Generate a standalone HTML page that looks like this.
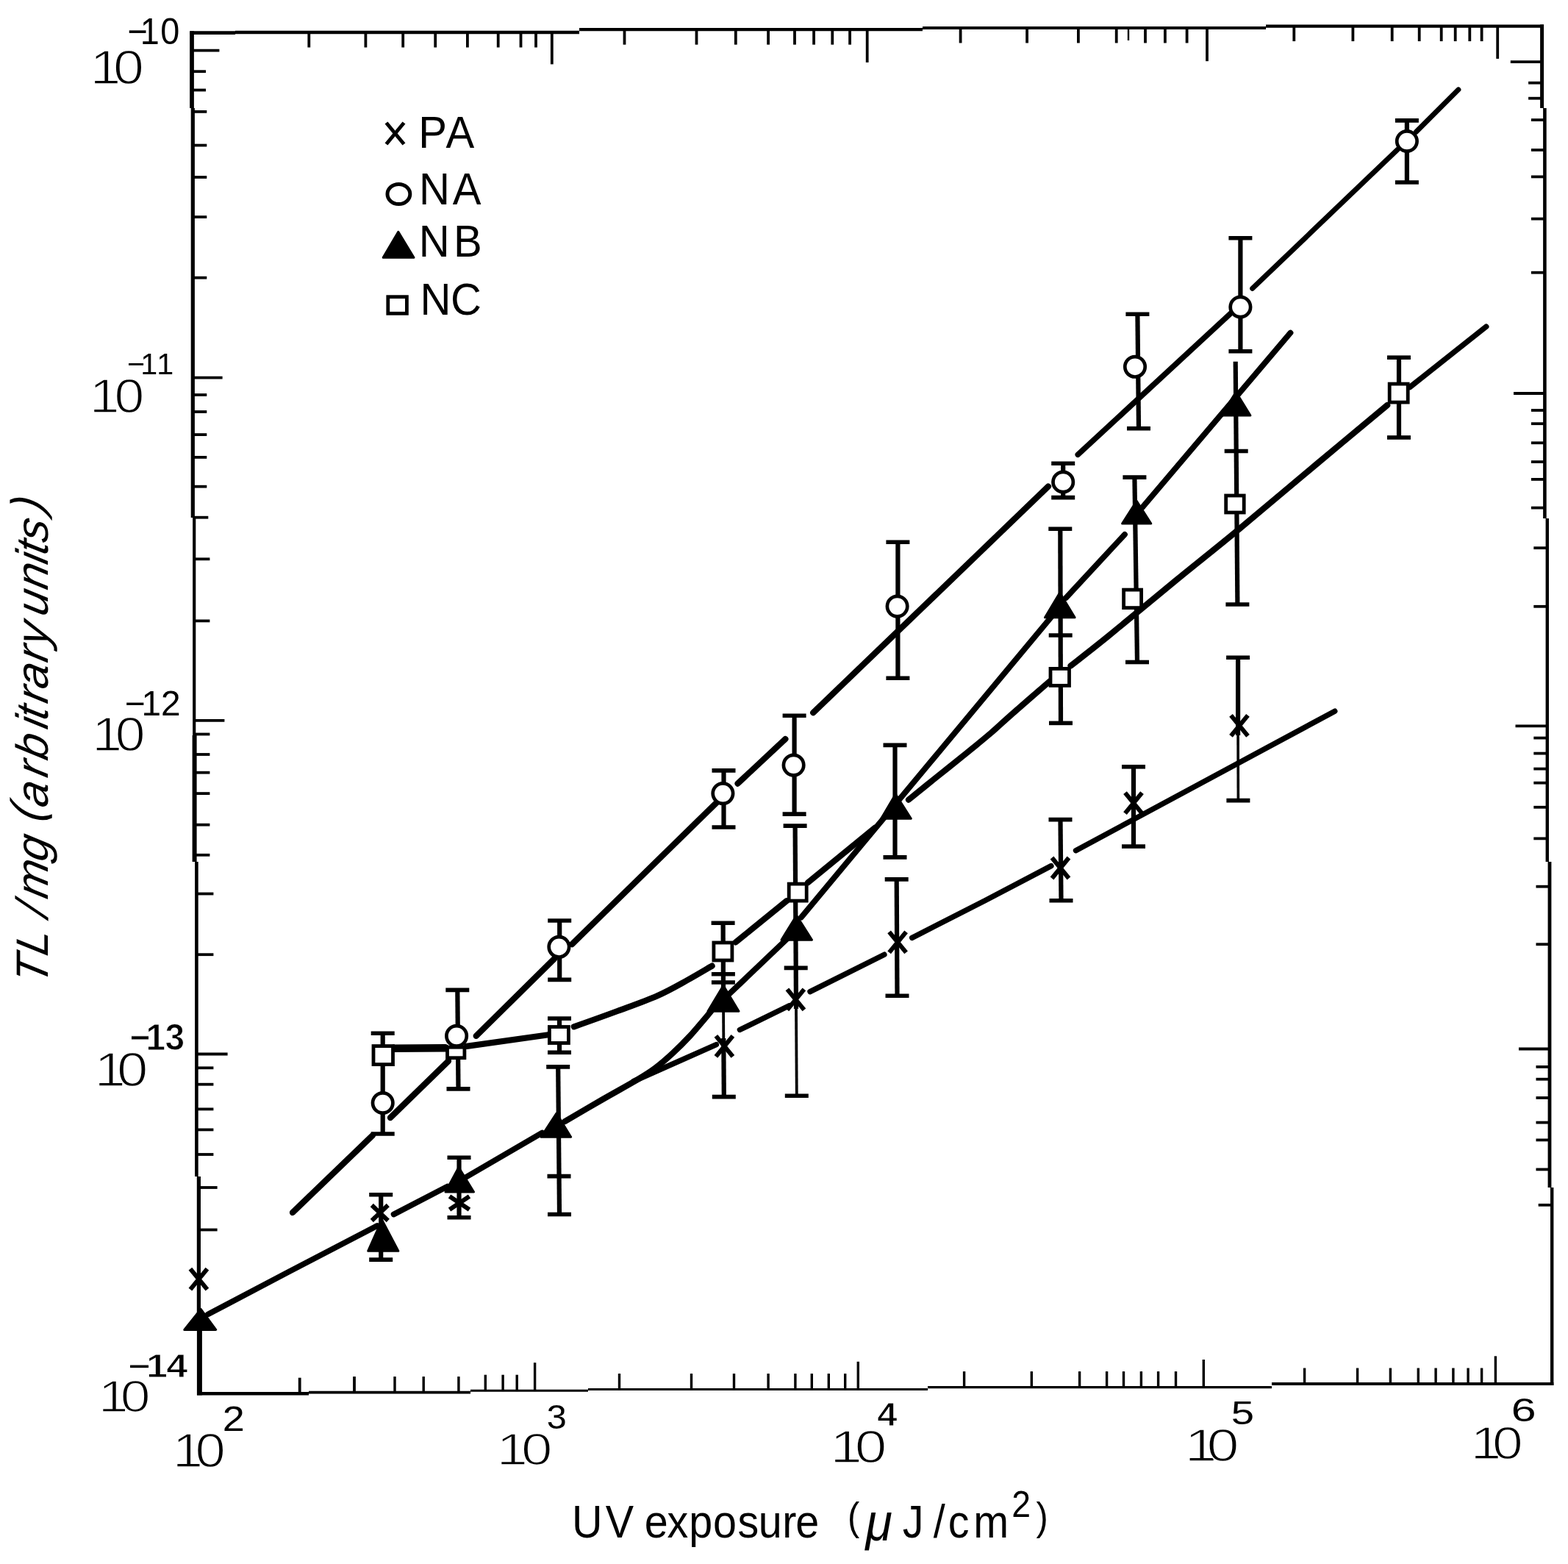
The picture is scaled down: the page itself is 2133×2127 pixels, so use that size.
<!DOCTYPE html>
<html lang="en">
<head>
<meta charset="utf-8">
<title>TL/mg versus UV exposure</title>
<style>
html,body{margin:0;padding:0;background:#fff;}
body{width:2133px;height:2127px;overflow:hidden;}
svg{display:block;}
</style>
</head>
<body>
<svg width="2133" height="2127" viewBox="0 0 2133 2127" stroke="#000" fill="none">
<rect x="0" y="0" width="2133" height="2127" fill="#fff" stroke="none"/>
<g id="frame">
<line x1="258.5" y1="44.6" x2="320" y2="44.6" stroke-width="4.6"/>
<line x1="320" y1="44" x2="788" y2="44" stroke-width="4.4"/>
<line x1="788" y1="40.2" x2="1255" y2="40.2" stroke-width="4.2"/>
<line x1="1255" y1="38" x2="1722" y2="38" stroke-width="4.2"/>
<line x1="1722" y1="35.6" x2="2100" y2="35.6" stroke-width="4.4"/>
<line x1="261" y1="42.3" x2="261" y2="147" stroke-width="5.8"/>
<line x1="262.3" y1="147" x2="262.3" y2="704" stroke-width="5.2"/>
<line x1="264.2" y1="704" x2="264.2" y2="1000" stroke-width="4.2"/>
<line x1="264.6" y1="1000" x2="264.6" y2="1172" stroke-width="6.0"/>
<line x1="267.4" y1="1172" x2="267.4" y2="1600" stroke-width="4.6"/>
<line x1="270.4" y1="1600" x2="270.4" y2="1790" stroke-width="5.2"/>
<line x1="271.4" y1="1790" x2="271.4" y2="1897.4" stroke-width="7.0"/>
<line x1="2097.6" y1="33.4" x2="2097.6" y2="147" stroke-width="5.0"/>
<line x1="2101.4" y1="147" x2="2101.4" y2="705" stroke-width="4.6"/>
<line x1="2104.8" y1="705" x2="2104.8" y2="1172" stroke-width="4.4"/>
<line x1="2108" y1="1172" x2="2108" y2="1615" stroke-width="4.8"/>
<line x1="2111.2" y1="1615" x2="2111.2" y2="1884" stroke-width="4.4"/>
<line x1="268" y1="1895.2" x2="420" y2="1895.2" stroke-width="4.6"/>
<line x1="420" y1="1893.6" x2="640" y2="1893.6" stroke-width="3.6"/>
<line x1="640" y1="1891.2" x2="800" y2="1891.2" stroke-width="3.0"/>
<line x1="800" y1="1889.6" x2="1262" y2="1889.6" stroke-width="3.0"/>
<line x1="1262" y1="1886.6" x2="1730" y2="1886.6" stroke-width="3.2"/>
<line x1="1730" y1="1882" x2="2113.4" y2="1882" stroke-width="4.0"/>
</g>
<g id="ticks">
<line x1="420.3" y1="44" x2="420.3" y2="64.5" stroke-width="3.8"/>
<line x1="497.4" y1="44" x2="497.4" y2="64.5" stroke-width="3.8"/>
<line x1="548.2" y1="44" x2="548.2" y2="64.5" stroke-width="3.8"/>
<line x1="592.2" y1="44" x2="592.2" y2="64.5" stroke-width="3.8"/>
<line x1="635.9" y1="44" x2="635.9" y2="64.5" stroke-width="3.8"/>
<line x1="677.7" y1="44" x2="677.7" y2="64.5" stroke-width="3.8"/>
<line x1="708.5" y1="44" x2="708.5" y2="64.5" stroke-width="3.8"/>
<line x1="729" y1="44" x2="729" y2="64.5" stroke-width="3.8"/>
<line x1="849.5" y1="40.2" x2="849.5" y2="60.7" stroke-width="3.8"/>
<line x1="947.5" y1="40.2" x2="947.5" y2="60.7" stroke-width="3.8"/>
<line x1="1000.8" y1="40.2" x2="1000.8" y2="60.7" stroke-width="3.8"/>
<line x1="1045.1" y1="40.2" x2="1045.1" y2="60.7" stroke-width="3.8"/>
<line x1="1081" y1="40.2" x2="1081" y2="60.7" stroke-width="3.8"/>
<line x1="1107.1" y1="40.2" x2="1107.1" y2="60.7" stroke-width="3.8"/>
<line x1="1132.3" y1="40.2" x2="1132.3" y2="60.7" stroke-width="3.8"/>
<line x1="1156.1" y1="40.2" x2="1156.1" y2="60.7" stroke-width="3.8"/>
<line x1="1306.6" y1="38" x2="1306.6" y2="58.5" stroke-width="3.8"/>
<line x1="1397.1" y1="38" x2="1397.1" y2="58.5" stroke-width="3.8"/>
<line x1="1466.9" y1="38" x2="1466.9" y2="58.5" stroke-width="3.8"/>
<line x1="1518.7" y1="38" x2="1518.7" y2="58.5" stroke-width="3.8"/>
<line x1="1558" y1="38" x2="1558" y2="58.5" stroke-width="3.8"/>
<line x1="1584.9" y1="38" x2="1584.9" y2="58.5" stroke-width="3.8"/>
<line x1="1614.6" y1="38" x2="1614.6" y2="58.5" stroke-width="3.8"/>
<line x1="1760.3" y1="35.6" x2="1760.3" y2="56.1" stroke-width="3.8"/>
<line x1="1840.4" y1="35.6" x2="1840.4" y2="56.1" stroke-width="3.8"/>
<line x1="1893.7" y1="35.6" x2="1893.7" y2="56.1" stroke-width="3.8"/>
<line x1="1930.7" y1="35.6" x2="1930.7" y2="56.1" stroke-width="3.8"/>
<line x1="1960.7" y1="35.6" x2="1960.7" y2="56.1" stroke-width="3.8"/>
<line x1="1979.7" y1="35.6" x2="1979.7" y2="56.1" stroke-width="3.8"/>
<line x1="1999.3" y1="35.6" x2="1999.3" y2="56.1" stroke-width="3.8"/>
<line x1="2015.6" y1="35.6" x2="2015.6" y2="56.1" stroke-width="3.8"/>
<line x1="1535" y1="40" x2="1535" y2="55" stroke-width="2.4"/>
<line x1="750.8" y1="44" x2="750.8" y2="87.4" stroke-width="3.8"/>
<line x1="1179.7" y1="40.2" x2="1179.7" y2="84.9" stroke-width="3.8"/>
<line x1="1642" y1="38" x2="1642" y2="83.2" stroke-width="3.8"/>
<line x1="2037.2" y1="35.6" x2="2037.2" y2="79.9" stroke-width="3.8"/>
<line x1="407.7" y1="1895.2" x2="407.7" y2="1873.7" stroke-width="3.8"/>
<line x1="482" y1="1893.6" x2="482" y2="1872.1" stroke-width="3.8"/>
<line x1="537" y1="1893.6" x2="537" y2="1872.1" stroke-width="3.4"/>
<line x1="576.2" y1="1893.6" x2="576.2" y2="1872.1" stroke-width="3.4"/>
<line x1="623.9" y1="1893.6" x2="623.9" y2="1872.1" stroke-width="3.4"/>
<line x1="660.3" y1="1891.2" x2="660.3" y2="1869.7" stroke-width="3.4"/>
<line x1="684.1" y1="1891.2" x2="684.1" y2="1869.7" stroke-width="3.4"/>
<line x1="703.2" y1="1891.2" x2="703.2" y2="1869.7" stroke-width="3.4"/>
<line x1="842.5" y1="1889.6" x2="842.5" y2="1868.1" stroke-width="3.4"/>
<line x1="940.5" y1="1889.6" x2="940.5" y2="1868.1" stroke-width="3.4"/>
<line x1="998.5" y1="1889.6" x2="998.5" y2="1868.1" stroke-width="3.4"/>
<line x1="1045.1" y1="1889.6" x2="1045.1" y2="1868.1" stroke-width="3.4"/>
<line x1="1081.9" y1="1889.6" x2="1081.9" y2="1868.1" stroke-width="3.4"/>
<line x1="1104.3" y1="1889.6" x2="1104.3" y2="1868.1" stroke-width="3.4"/>
<line x1="1127.3" y1="1889.6" x2="1127.3" y2="1868.1" stroke-width="3.4"/>
<line x1="1149.7" y1="1889.6" x2="1149.7" y2="1868.1" stroke-width="3.4"/>
<line x1="1311.6" y1="1886.6" x2="1311.6" y2="1865.1" stroke-width="3.4"/>
<line x1="1403.3" y1="1886.6" x2="1403.3" y2="1865.1" stroke-width="3.4"/>
<line x1="1468.6" y1="1886.6" x2="1468.6" y2="1865.1" stroke-width="3.4"/>
<line x1="1505.6" y1="1886.6" x2="1505.6" y2="1865.1" stroke-width="3.4"/>
<line x1="1528.5" y1="1886.6" x2="1528.5" y2="1865.1" stroke-width="3.4"/>
<line x1="1552.4" y1="1886.6" x2="1552.4" y2="1865.1" stroke-width="3.4"/>
<line x1="1575.6" y1="1886.6" x2="1575.6" y2="1865.1" stroke-width="3.4"/>
<line x1="1599.5" y1="1886.6" x2="1599.5" y2="1865.1" stroke-width="3.4"/>
<line x1="1774.6" y1="1882" x2="1774.6" y2="1860.5" stroke-width="3.4"/>
<line x1="1846.6" y1="1882" x2="1846.6" y2="1860.5" stroke-width="3.4"/>
<line x1="1891.4" y1="1882" x2="1891.4" y2="1860.5" stroke-width="3.4"/>
<line x1="1929.3" y1="1882" x2="1929.3" y2="1860.5" stroke-width="3.4"/>
<line x1="1953.1" y1="1882" x2="1953.1" y2="1860.5" stroke-width="3.4"/>
<line x1="1976.9" y1="1882" x2="1976.9" y2="1860.5" stroke-width="3.4"/>
<line x1="1997.1" y1="1882" x2="1997.1" y2="1860.5" stroke-width="3.4"/>
<line x1="2015.6" y1="1882" x2="2015.6" y2="1860.5" stroke-width="3.4"/>
<line x1="727.6" y1="1891.2" x2="727.6" y2="1853.2" stroke-width="3.4"/>
<line x1="1167.3" y1="1889.6" x2="1167.3" y2="1851.8" stroke-width="3.4"/>
<line x1="1637.3" y1="1886.6" x2="1637.3" y2="1849" stroke-width="3.4"/>
<line x1="2034.4" y1="1882" x2="2034.4" y2="1844.3" stroke-width="3.4"/>
<line x1="261" y1="97.2" x2="280" y2="97.2" stroke-width="3.8"/>
<line x1="261" y1="122.5" x2="280" y2="122.5" stroke-width="3.8"/>
<line x1="262.3" y1="151.9" x2="281.3" y2="151.9" stroke-width="3.8"/>
<line x1="262.3" y1="197.6" x2="281.3" y2="197.6" stroke-width="3.8"/>
<line x1="262.3" y1="241" x2="281.3" y2="241" stroke-width="3.8"/>
<line x1="262.3" y1="295.1" x2="281.3" y2="295.1" stroke-width="3.8"/>
<line x1="262.3" y1="377.7" x2="281.3" y2="377.7" stroke-width="3.8"/>
<line x1="262.3" y1="537" x2="281.3" y2="537" stroke-width="3.8"/>
<line x1="262.3" y1="560" x2="281.3" y2="560" stroke-width="3.8"/>
<line x1="262.3" y1="591.1" x2="281.3" y2="591.1" stroke-width="3.8"/>
<line x1="262.3" y1="621.9" x2="281.3" y2="621.9" stroke-width="3.8"/>
<line x1="262.3" y1="661.7" x2="281.3" y2="661.7" stroke-width="3.8"/>
<line x1="262.3" y1="703.7" x2="283.3" y2="703.7" stroke-width="3.8"/>
<line x1="264.4" y1="760.3" x2="285.4" y2="760.3" stroke-width="3.8"/>
<line x1="264.4" y1="844.4" x2="285.4" y2="844.4" stroke-width="3.8"/>
<line x1="264.4" y1="998.5" x2="285.4" y2="998.5" stroke-width="3.8"/>
<line x1="264.4" y1="1026" x2="285.4" y2="1026" stroke-width="3.8"/>
<line x1="264.4" y1="1050.7" x2="285.4" y2="1050.7" stroke-width="3.8"/>
<line x1="264.4" y1="1079.1" x2="285.4" y2="1079.1" stroke-width="3.8"/>
<line x1="264.4" y1="1121.7" x2="285.4" y2="1121.7" stroke-width="3.8"/>
<line x1="264.4" y1="1162.8" x2="285.4" y2="1162.8" stroke-width="3.8"/>
<line x1="267.4" y1="1215.5" x2="290.4" y2="1215.5" stroke-width="3.8"/>
<line x1="267.4" y1="1298.2" x2="290.4" y2="1298.2" stroke-width="3.8"/>
<line x1="267.4" y1="1452.3" x2="290.4" y2="1452.3" stroke-width="3.8"/>
<line x1="267.4" y1="1474.7" x2="290.4" y2="1474.7" stroke-width="3.8"/>
<line x1="267.4" y1="1508.4" x2="290.4" y2="1508.4" stroke-width="3.8"/>
<line x1="267.4" y1="1536.4" x2="290.4" y2="1536.4" stroke-width="3.8"/>
<line x1="267.4" y1="1570" x2="290.4" y2="1570" stroke-width="3.8"/>
<line x1="269.6" y1="1615" x2="295.6" y2="1615" stroke-width="3.8"/>
<line x1="269.6" y1="1672.5" x2="295.6" y2="1672.5" stroke-width="3.8"/>
<line x1="261" y1="68.7" x2="298.4" y2="68.7" stroke-width="3.8"/>
<line x1="262.3" y1="513.7" x2="302.6" y2="513.7" stroke-width="3.8"/>
<line x1="264.4" y1="979.8" x2="305.4" y2="979.8" stroke-width="3.8"/>
<line x1="267.4" y1="1433.5" x2="309.6" y2="1433.5" stroke-width="3.8"/>
<line x1="2097.6" y1="112.7" x2="2079.1" y2="112.7" stroke-width="3.8"/>
<line x1="2097.6" y1="133.7" x2="2079.1" y2="133.7" stroke-width="3.8"/>
<line x1="2101.4" y1="163.1" x2="2082.9" y2="163.1" stroke-width="3.8"/>
<line x1="2101.4" y1="204" x2="2082.9" y2="204" stroke-width="3.8"/>
<line x1="2101.4" y1="240.4" x2="2082.9" y2="240.4" stroke-width="3.8"/>
<line x1="2101.4" y1="297.6" x2="2082.9" y2="297.6" stroke-width="3.8"/>
<line x1="2101.4" y1="370.7" x2="2082.9" y2="370.7" stroke-width="3.8"/>
<line x1="2101.4" y1="558" x2="2082.9" y2="558" stroke-width="3.8"/>
<line x1="2101.4" y1="576.2" x2="2082.9" y2="576.2" stroke-width="3.8"/>
<line x1="2101.4" y1="602.3" x2="2082.9" y2="602.3" stroke-width="3.8"/>
<line x1="2101.4" y1="628.1" x2="2082.9" y2="628.1" stroke-width="3.8"/>
<line x1="2101.4" y1="651.9" x2="2082.9" y2="651.9" stroke-width="3.8"/>
<line x1="2101.4" y1="690.6" x2="2082.9" y2="690.6" stroke-width="3.8"/>
<line x1="2104.8" y1="745.2" x2="2086.3" y2="745.2" stroke-width="3.8"/>
<line x1="2104.8" y1="824.8" x2="2086.3" y2="824.8" stroke-width="3.8"/>
<line x1="2104.8" y1="1003.6" x2="2086.3" y2="1003.6" stroke-width="3.8"/>
<line x1="2104.8" y1="1024.6" x2="2086.3" y2="1024.6" stroke-width="3.8"/>
<line x1="2104.8" y1="1045.6" x2="2086.3" y2="1045.6" stroke-width="3.8"/>
<line x1="2104.8" y1="1064.7" x2="2086.3" y2="1064.7" stroke-width="3.8"/>
<line x1="2104.8" y1="1097.8" x2="2086.3" y2="1097.8" stroke-width="3.8"/>
<line x1="2104.8" y1="1140.4" x2="2086.3" y2="1140.4" stroke-width="3.8"/>
<line x1="2108" y1="1205.7" x2="2089.5" y2="1205.7" stroke-width="3.8"/>
<line x1="2108" y1="1284.2" x2="2089.5" y2="1284.2" stroke-width="3.8"/>
<line x1="2108" y1="1450.9" x2="2089.5" y2="1450.9" stroke-width="3.8"/>
<line x1="2108" y1="1467.7" x2="2089.5" y2="1467.7" stroke-width="3.8"/>
<line x1="2108" y1="1493" x2="2089.5" y2="1493" stroke-width="3.8"/>
<line x1="2108" y1="1526.6" x2="2089.5" y2="1526.6" stroke-width="3.8"/>
<line x1="2108" y1="1550.4" x2="2089.5" y2="1550.4" stroke-width="3.8"/>
<line x1="2108" y1="1590.4" x2="2089.5" y2="1590.4" stroke-width="3.8"/>
<line x1="2111.2" y1="1638.8" x2="2092.7" y2="1638.8" stroke-width="3.8"/>
<line x1="2097.6" y1="84.1" x2="2054.8" y2="84.1" stroke-width="3.8"/>
<line x1="2101.4" y1="535" x2="2059" y2="535" stroke-width="3.8"/>
<line x1="2104.8" y1="987.3" x2="2061.5" y2="987.3" stroke-width="3.8"/>
<line x1="2108" y1="1426.5" x2="2066" y2="1426.5" stroke-width="3.8"/>
</g>
<g id="curves" fill="none">
<polyline points="398,1649 507,1544" stroke-width="8.3" stroke-linecap="round" stroke-linejoin="round"/>
<polyline points="531,1520 610,1443" stroke-width="8.3" stroke-linecap="round" stroke-linejoin="round"/>
<polyline points="647.7,1408.9 754.2,1303.8" stroke-width="8.3" stroke-linecap="round" stroke-linejoin="round"/>
<polyline points="778,1284.2 975.6,1090.8" stroke-width="8.2" stroke-linecap="round" stroke-linejoin="round"/>
<polyline points="1003.6,1065.6 1068.4,1005" stroke-width="8.2" stroke-linecap="round" stroke-linejoin="round"/>
<polyline points="1106.2,969.2 1290,792.5 1426,661.5" stroke-width="8.2" stroke-linecap="round" stroke-linejoin="round"/>
<polyline points="1466.3,618.3 1674.3,426" stroke-width="7.6" stroke-linecap="round" stroke-linejoin="round"/>
<polyline points="1703.7,392.3 1901.3,203.2" stroke-width="7.0" stroke-linecap="round" stroke-linejoin="round"/>
<polyline points="1926.5,179.3 1983.9,121.9" stroke-width="7.0" stroke-linecap="round" stroke-linejoin="round"/>
<polyline points="283,1787.4 392.3,1729.9 513,1667" stroke-width="7.8" stroke-linecap="round" stroke-linejoin="round"/>
<polyline points="535.6,1651.5 608.5,1613.6" stroke-width="7.8" stroke-linecap="round" stroke-linejoin="round"/>
<polyline points="633.7,1601 737.4,1540.6" stroke-width="7.8" stroke-linecap="round" stroke-linejoin="round"/>
<polyline points="992.4,1351.4 1075,1272.7" stroke-width="7.8" stroke-linecap="round" stroke-linejoin="round"/>
<polyline points="1090,1247.6 1437,830.7" stroke-width="7.8" stroke-linecap="round" stroke-linejoin="round"/>
<polyline points="1450,813.1 1530,726.8" stroke-width="7.8" stroke-linecap="round" stroke-linejoin="round"/>
<polyline points="1553.6,690.4 1755.5,452.6" stroke-width="7.8" stroke-linecap="round" stroke-linejoin="round"/>
<path d="M768.2,1525.2 C776.7,1520.2 802.9,1504.9 819.4,1495.4 C835.9,1485.9 855.2,1475.4 867.1,1468.3 C879,1461.2 883,1458.8 891,1452.8 C899,1446.8 906.9,1439.9 914.9,1432.5 C922.9,1425.1 930,1418.1 938.8,1408.6 C947.5,1399 962.6,1380.8 967.4,1375.2" stroke-width="8.2" stroke-linecap="round" stroke-linejoin="round"/>
<polyline points="535,1425.8 606,1425.2" stroke-width="10.5" stroke-linecap="round" stroke-linejoin="round"/>
<polyline points="635.1,1422.9 744.4,1407.5" stroke-width="8.2" stroke-linecap="round" stroke-linejoin="round"/>
<path d="M780.8,1396.3 C790.7,1392.8 821.1,1382 840,1375 C858.9,1368 878.5,1361.2 894.3,1354.2 C910.1,1347.2 922.6,1339.8 935,1333 C947.4,1326.2 963,1316.8 968.6,1313.6" stroke-width="8.2" stroke-linecap="round" stroke-linejoin="round"/>
<polyline points="1000.8,1281.4 1070,1225.3" stroke-width="8.2" stroke-linecap="round" stroke-linejoin="round"/>
<polyline points="1099.2,1200.1 1190,1125.8" stroke-width="8.2" stroke-linecap="round" stroke-linejoin="round"/>
<path d="M1236,1087.6 C1242.2,1082.6 1260,1068.1 1273.1,1057.6 C1286.2,1047.1 1302.1,1034.5 1314.6,1024.4 C1327,1014.3 1337.4,1005.9 1347.8,997 C1358.2,988.1 1363.6,982.5 1377,970.8 C1390.4,959 1419.5,933.9 1428,926.5" stroke-width="8.2" stroke-linecap="round" stroke-linejoin="round"/>
<path d="M1456.5,905.5 C1465.2,898.7 1484.5,883.9 1508.4,864.5 C1532.3,845.1 1571,812.8 1600,789 C1629,765.2 1651,748.2 1682.7,722 C1714.4,695.8 1755.9,660.5 1790,632 C1824.1,603.5 1871,564.5 1887.2,551" stroke-width="8.2" stroke-linecap="round" stroke-linejoin="round"/>
<polyline points="1917.9,526.5 2021.8,444.2" stroke-width="7.4" stroke-linecap="round" stroke-linejoin="round"/>
<polyline points="862,1470.5 974.4,1420.6" stroke-width="7.4" stroke-linecap="round" stroke-linejoin="round"/>
<polyline points="1006.4,1400.5 1074,1367.5" stroke-width="7.4" stroke-linecap="round" stroke-linejoin="round"/>
<polyline points="1102,1348.6 1202.9,1298.2" stroke-width="7.4" stroke-linecap="round" stroke-linejoin="round"/>
<polyline points="1240.7,1275.4 1340,1224.8 1429.9,1177.6" stroke-width="7.4" stroke-linecap="round" stroke-linejoin="round"/>
<polyline points="1463.5,1156.7 1815.8,967.2" stroke-width="7.4" stroke-linecap="round" stroke-linejoin="round"/>
</g>
<g id="errorbars">
<line x1="520.7" y1="1405.2" x2="520.7" y2="1542" stroke-width="6.2"/>
<line x1="504.7" y1="1405.2" x2="536.7" y2="1405.2" stroke-width="5.6"/>
<line x1="504.7" y1="1542" x2="536.7" y2="1542" stroke-width="5.6"/>
<line x1="518.2" y1="1624.8" x2="518.2" y2="1713.1" stroke-width="6.2"/>
<line x1="502.2" y1="1624.8" x2="534.2" y2="1624.8" stroke-width="5.6"/>
<line x1="502.2" y1="1713.1" x2="534.2" y2="1713.1" stroke-width="5.6"/>
<line x1="622.3" y1="1346.4" x2="623.5" y2="1480.9" stroke-width="6.2"/>
<line x1="606.3" y1="1346.4" x2="638.3" y2="1346.4" stroke-width="5.6"/>
<line x1="607.5" y1="1480.9" x2="639.5" y2="1480.9" stroke-width="5.6"/>
<line x1="624.5" y1="1574.2" x2="624.5" y2="1655.7" stroke-width="6.2"/>
<line x1="608.5" y1="1574.2" x2="640.5" y2="1574.2" stroke-width="5.6"/>
<line x1="608.5" y1="1655.7" x2="640.5" y2="1655.7" stroke-width="5.6"/>
<line x1="761.2" y1="1252" x2="761.2" y2="1332.4" stroke-width="6.2"/>
<line x1="745.2" y1="1252" x2="777.2" y2="1252" stroke-width="5.6"/>
<line x1="745.2" y1="1332.4" x2="777.2" y2="1332.4" stroke-width="5.6"/>
<line x1="761" y1="1385.1" x2="761" y2="1431.3" stroke-width="6.2"/>
<line x1="745" y1="1385.1" x2="777" y2="1385.1" stroke-width="5.6"/>
<line x1="745" y1="1431.3" x2="777" y2="1431.3" stroke-width="5.6"/>
<line x1="759.2" y1="1450.9" x2="761" y2="1651.5" stroke-width="6.2"/>
<line x1="743.2" y1="1450.9" x2="775.2" y2="1450.9" stroke-width="5.6"/>
<line x1="744.5" y1="1599.6" x2="776.5" y2="1599.6" stroke-width="5.6"/>
<line x1="745" y1="1651.5" x2="777" y2="1651.5" stroke-width="5.6"/>
<line x1="984.5" y1="1047.9" x2="984.5" y2="1125" stroke-width="6.2"/>
<line x1="968.5" y1="1047.9" x2="1000.5" y2="1047.9" stroke-width="5.6"/>
<line x1="968.5" y1="1125" x2="1000.5" y2="1125" stroke-width="5.6"/>
<line x1="983.6" y1="1255.3" x2="984.1" y2="1376" stroke-width="6.2"/>
<line x1="967.6" y1="1255.3" x2="999.6" y2="1255.3" stroke-width="5.6"/>
<line x1="967.9" y1="1324.8" x2="999.9" y2="1324.8" stroke-width="5.6"/>
<line x1="967.9" y1="1336" x2="999.9" y2="1336" stroke-width="5.6"/>
<line x1="984.1" y1="1376" x2="984.3" y2="1412" stroke-width="3.8"/>
<line x1="984.3" y1="1412" x2="984.8" y2="1491.6" stroke-width="6.2"/>
<line x1="968.8" y1="1491.6" x2="1000.8" y2="1491.6" stroke-width="5.6"/>
<line x1="1080.6" y1="973.3" x2="1080.6" y2="1107.1" stroke-width="6.2"/>
<line x1="1064.6" y1="973.3" x2="1096.6" y2="973.3" stroke-width="5.6"/>
<line x1="1064.6" y1="1107.1" x2="1096.6" y2="1107.1" stroke-width="5.6"/>
<line x1="1081.6" y1="1123.1" x2="1083" y2="1372" stroke-width="6.2"/>
<line x1="1065.6" y1="1123.1" x2="1097.6" y2="1123.1" stroke-width="5.6"/>
<line x1="1066.7" y1="1316.4" x2="1098.7" y2="1316.4" stroke-width="5.6"/>
<line x1="1083" y1="1372" x2="1083.8" y2="1490.2" stroke-width="3.8"/>
<line x1="1067.8" y1="1490.2" x2="1099.8" y2="1490.2" stroke-width="5.6"/>
<line x1="1221.4" y1="737.2" x2="1221.4" y2="922.3" stroke-width="6.2"/>
<line x1="1205.4" y1="737.2" x2="1237.4" y2="737.2" stroke-width="5.6"/>
<line x1="1205.4" y1="922.3" x2="1237.4" y2="922.3" stroke-width="5.6"/>
<line x1="1217.5" y1="1013.4" x2="1217.5" y2="1165.9" stroke-width="6.2"/>
<line x1="1201.5" y1="1013.4" x2="1233.5" y2="1013.4" stroke-width="5.6"/>
<line x1="1201.5" y1="1165.9" x2="1233.5" y2="1165.9" stroke-width="5.6"/>
<line x1="1219.7" y1="1195.9" x2="1220.5" y2="1354.2" stroke-width="6.2"/>
<line x1="1203.7" y1="1195.9" x2="1235.7" y2="1195.9" stroke-width="5.6"/>
<line x1="1204.5" y1="1354.2" x2="1236.5" y2="1354.2" stroke-width="5.6"/>
<line x1="1446.2" y1="630.3" x2="1446.2" y2="676.6" stroke-width="6.2"/>
<line x1="1430.2" y1="630.3" x2="1462.2" y2="630.3" stroke-width="5.6"/>
<line x1="1430.2" y1="676.6" x2="1462.2" y2="676.6" stroke-width="5.6"/>
<line x1="1442.3" y1="719.2" x2="1443" y2="983.4" stroke-width="6.2"/>
<line x1="1426.3" y1="719.2" x2="1458.3" y2="719.2" stroke-width="5.6"/>
<line x1="1426.7" y1="864" x2="1458.7" y2="864" stroke-width="5.6"/>
<line x1="1427" y1="983.4" x2="1459" y2="983.4" stroke-width="5.6"/>
<line x1="1442.5" y1="1114.6" x2="1443.5" y2="1224.8" stroke-width="6.2"/>
<line x1="1426.5" y1="1114.6" x2="1458.5" y2="1114.6" stroke-width="5.6"/>
<line x1="1427.5" y1="1224.8" x2="1459.5" y2="1224.8" stroke-width="5.6"/>
<line x1="1547.4" y1="427.3" x2="1549" y2="582.7" stroke-width="6.2"/>
<line x1="1531.4" y1="427.3" x2="1563.4" y2="427.3" stroke-width="5.6"/>
<line x1="1533" y1="582.7" x2="1565" y2="582.7" stroke-width="5.6"/>
<line x1="1543.4" y1="649.1" x2="1547" y2="900.5" stroke-width="6.2"/>
<line x1="1527.4" y1="649.1" x2="1559.4" y2="649.1" stroke-width="5.6"/>
<line x1="1531" y1="900.5" x2="1563" y2="900.5" stroke-width="5.6"/>
<line x1="1542" y1="1042.8" x2="1542" y2="1151.1" stroke-width="6.2"/>
<line x1="1526" y1="1042.8" x2="1558" y2="1042.8" stroke-width="5.6"/>
<line x1="1526" y1="1151.1" x2="1558" y2="1151.1" stroke-width="5.6"/>
<line x1="1687.4" y1="323.7" x2="1687.4" y2="477.8" stroke-width="6.2"/>
<line x1="1671.4" y1="323.7" x2="1703.4" y2="323.7" stroke-width="5.6"/>
<line x1="1671.4" y1="477.8" x2="1703.4" y2="477.8" stroke-width="5.6"/>
<line x1="1680.7" y1="491.8" x2="1683.4" y2="822" stroke-width="6.2"/>
<line x1="1665.7" y1="613.5" x2="1697.7" y2="613.5" stroke-width="5.6"/>
<line x1="1667.4" y1="822" x2="1699.4" y2="822" stroke-width="5.6"/>
<line x1="1684.1" y1="894.3" x2="1684.1" y2="1000" stroke-width="6.2"/>
<line x1="1668.1" y1="894.3" x2="1700.1" y2="894.3" stroke-width="5.6"/>
<line x1="1684.1" y1="1000" x2="1684.4" y2="1088.6" stroke-width="3.6"/>
<line x1="1668.4" y1="1088.6" x2="1700.4" y2="1088.6" stroke-width="5.6"/>
<line x1="1913.9" y1="163.9" x2="1913.9" y2="248" stroke-width="6.2"/>
<line x1="1897.9" y1="163.9" x2="1929.9" y2="163.9" stroke-width="5.6"/>
<line x1="1897.9" y1="248" x2="1929.9" y2="248" stroke-width="5.6"/>
<line x1="1903" y1="486.2" x2="1903" y2="595" stroke-width="6.2"/>
<line x1="1887" y1="486.2" x2="1919" y2="486.2" stroke-width="5.6"/>
<line x1="1887" y1="595" x2="1919" y2="595" stroke-width="5.6"/>
</g>
<g id="markers">
<rect x="508" y="1422.6" width="26.5" height="25" fill="#fff" stroke-width="4.8"/>
<rect x="608.5" y="1424.2" width="23.4" height="14.5" fill="#fff" stroke-width="4.8"/>
<rect x="747.4" y="1396.5" width="26" height="22" fill="#fff" stroke-width="4.8"/>
<rect x="970.9" y="1282" width="25" height="24" fill="#fff" stroke-width="4.8"/>
<rect x="1073.2" y="1202.1" width="24" height="23" fill="#fff" stroke-width="4.8"/>
<rect x="1429" y="909.4" width="25.5" height="23" fill="#fff" stroke-width="4.8"/>
<rect x="1528.6" y="802.1" width="24" height="24.5" fill="#fff" stroke-width="4.8"/>
<rect x="1667.7" y="674" width="24.5" height="23" fill="#fff" stroke-width="4.8"/>
<rect x="1890.2" y="522.1" width="25" height="25" fill="#fff" stroke-width="4.8"/>
<ellipse cx="520.7" cy="1500" rx="13.7" ry="13.7" fill="#fff" stroke-width="4.7"/>
<ellipse cx="621.1" cy="1408.9" rx="13.7" ry="13.7" fill="#fff" stroke-width="4.7"/>
<ellipse cx="760.4" cy="1287.8" rx="13.7" ry="13.7" fill="#fff" stroke-width="4.7"/>
<ellipse cx="983.4" cy="1079.1" rx="13.7" ry="13.7" fill="#fff" stroke-width="4.7"/>
<ellipse cx="1079.6" cy="1040.6" rx="13.7" ry="13.7" fill="#fff" stroke-width="4.7"/>
<ellipse cx="1220.6" cy="824.6" rx="13.7" ry="13.7" fill="#fff" stroke-width="4.7"/>
<ellipse cx="1446.2" cy="655.5" rx="13.7" ry="13.7" fill="#fff" stroke-width="4.7"/>
<ellipse cx="1544" cy="498.8" rx="13.7" ry="13.7" fill="#fff" stroke-width="4.7"/>
<ellipse cx="1687.4" cy="417.5" rx="13.7" ry="13.7" fill="#fff" stroke-width="4.7"/>
<ellipse cx="1913.9" cy="192" rx="13.7" ry="13.7" fill="#fff" stroke-width="4.7"/>
<polygon points="273.2,1780.4 293.7,1808.4 250.8,1808.4" fill="#000" stroke-width="3" stroke-linejoin="round"/>
<polygon points="519.6,1659 541.8,1701.3 500.7,1701.3" fill="#000" stroke-width="3" stroke-linejoin="round"/>
<polygon points="624,1587.5 644.5,1621 606,1621" fill="#000" stroke-width="3" stroke-linejoin="round"/>
<polygon points="757,1514 776.6,1546.2 736,1546.2" fill="#000" stroke-width="3" stroke-linejoin="round"/>
<polygon points="984,1340.2 1005,1375.3 963,1375.3" fill="#000" stroke-width="3" stroke-linejoin="round"/>
<polygon points="1083.5,1245 1104.5,1278.2 1063,1278.2" fill="#000" stroke-width="3" stroke-linejoin="round"/>
<polygon points="1218.3,1080 1239.3,1113.2 1198.7,1113.2" fill="#000" stroke-width="3" stroke-linejoin="round"/>
<polygon points="1441.7,806 1462.1,839.7 1421.5,839.7" fill="#000" stroke-width="3" stroke-linejoin="round"/>
<polygon points="1546.2,681.3 1565.8,712.1 1526.6,712.1" fill="#000" stroke-width="3" stroke-linejoin="round"/>
<polygon points="1681.3,533 1700.9,565 1661.7,565" fill="#000" stroke-width="3" stroke-linejoin="round"/>
<line x1="258.9" y1="1725.7" x2="281.9" y2="1753.7" stroke-width="6"/>
<line x1="258.9" y1="1753.7" x2="281.9" y2="1725.7" stroke-width="6"/>
<line x1="505.8" y1="1639" x2="527.8" y2="1660" stroke-width="6"/>
<line x1="505.8" y1="1660" x2="527.8" y2="1639" stroke-width="6"/>
<line x1="611.5" y1="1627" x2="638.5" y2="1645" stroke-width="6"/>
<line x1="611.5" y1="1645" x2="638.5" y2="1627" stroke-width="6"/>
<line x1="973.9" y1="1408.9" x2="996.9" y2="1436.9" stroke-width="6"/>
<line x1="973.9" y1="1436.9" x2="996.9" y2="1408.9" stroke-width="6"/>
<line x1="1070.9" y1="1345.3" x2="1093.9" y2="1373.3" stroke-width="6"/>
<line x1="1070.9" y1="1373.3" x2="1093.9" y2="1345.3" stroke-width="6"/>
<line x1="1209.6" y1="1267.4" x2="1232.6" y2="1295.4" stroke-width="6"/>
<line x1="1209.6" y1="1295.4" x2="1232.6" y2="1267.4" stroke-width="6"/>
<line x1="1431" y1="1166.5" x2="1454" y2="1194.5" stroke-width="6"/>
<line x1="1431" y1="1194.5" x2="1454" y2="1166.5" stroke-width="6"/>
<line x1="1530.5" y1="1078.2" x2="1553.5" y2="1106.2" stroke-width="6"/>
<line x1="1530.5" y1="1106.2" x2="1553.5" y2="1078.2" stroke-width="6"/>
<line x1="1674.5" y1="972.8" x2="1697.5" y2="1000.8" stroke-width="6"/>
<line x1="1674.5" y1="1000.8" x2="1697.5" y2="972.8" stroke-width="6"/>
</g>
<g id="legend">
<line x1="525.5" y1="167" x2="549.5" y2="196" stroke-width="5"/>
<line x1="525.5" y1="196" x2="549.5" y2="167" stroke-width="5"/>
<ellipse cx="542.4" cy="264" rx="15.4" ry="13.6" fill="#fff" stroke-width="5"/>
<polygon points="541.8,315.3 563,350.3 521.2,350.3" fill="#000" stroke-width="3" stroke-linejoin="round"/>
<rect x="527.8" y="403.7" width="25.6" height="22.6" fill="#fff" stroke-width="4.8"/>
</g>
<g id="labels" font-family="Liberation Sans, sans-serif" fill="#000" stroke="none">
<text transform="scale(0.960,1)" x="593.1 631.9" y="201.4" font-size="60.5">PA</text>
<text transform="scale(0.960,1)" x="593.7 641.4" y="277.6" font-size="60.5">NA</text>
<text transform="scale(0.960,1)" x="593.5 642.7" y="349" font-size="60.5">NB</text>
<text transform="scale(0.960,1)" x="595.2 638.6" y="428.4" font-size="60.5">NC</text>
<text transform="scale(1.159,1)" x="105.8 132.9" y="114.4" font-size="65" stroke="#fff" stroke-width="1.6">10</text>
<text transform="scale(0.924,1)" x="187.9 206.5 236.1" y="60.2" font-size="50.7">&#8722;10</text>
<text transform="scale(1.133,1)" x="107.4 137.2" y="560.8" font-size="64.8" stroke="#fff" stroke-width="1.6">10</text>
<text x="172.9 191.2 213.2" y="508.6" font-size="41.3">&#8722;11</text>
<text transform="scale(1.125,1)" x="111.3 139.4" y="1021.2" font-size="65.3" stroke="#fff" stroke-width="1.6">10</text>
<text transform="scale(1.009,1)" x="168.4 190.7 217.1" y="973.2" font-size="47.4">&#8722;12</text>
<text transform="scale(1.164,1)" x="110.5 136.6" y="1477" font-size="65.4" stroke="#fff" stroke-width="1.6">10</text>
<text transform="scale(0.958,1)" x="184.3 207.3 234.4" y="1428.5" font-size="50" font-weight="bold" stroke="#fff" stroke-width="1.0">&#8722;13</text>
<text transform="scale(1.195,1)" x="111.9 137.1" y="1919.9" font-size="61.4" stroke="#fff" stroke-width="1.6">10</text>
<text transform="scale(1.188,1)" x="146.7 167.5 190.4" y="1872.8" font-size="44" font-weight="bold" stroke="#fff" stroke-width="1.0">&#8722;14</text>
<text transform="scale(1.153,1)" x="203.6 230.3" y="1995" font-size="64.4" stroke="#fff" stroke-width="1.6">10</text>
<text transform="scale(1.122,1)" x="269.9" y="1945.7" font-size="48.1">2</text>
<text transform="scale(1.234,1)" x="547.4 574.5" y="1992.2" font-size="61.9" stroke="#fff" stroke-width="1.6">10</text>
<text transform="scale(1.055,1)" x="704.9" y="1942.9" font-size="46">3</text>
<text transform="scale(1.234,1)" x="915.2 942.2" y="1989.4" font-size="63.6" stroke="#fff" stroke-width="1.6">10</text>
<text transform="scale(1.116,1)" x="1069.3" y="1939.5" font-size="44" font-weight="bold" stroke="#fff" stroke-width="1.0">4</text>
<text transform="scale(1.270,1)" x="1269 1292.6" y="1986.6" font-size="62.4" stroke="#fff" stroke-width="1.6">10</text>
<text transform="scale(1.280,1)" x="1308.5" y="1937.3" font-size="44">5</text>
<text transform="scale(1.200,1)" x="1667 1691.7" y="1984.4" font-size="62.6" stroke="#fff" stroke-width="1.6">10</text>
<text transform="scale(1.384,1)" x="1485.3" y="1933" font-size="43.9">6</text>
<text transform="scale(0.920,1)"><tspan x="845.7 895.5 937.2 953.1 986.3 1018.8 1054.4 1090.8 1121.4 1156.9 1176.5 1211.2" y="2090.6" font-size="62.5">UV exposure </tspan><tspan x="1253.2" y="2081.2" font-size="53">(</tspan><tspan x="1279.8" y="2095.5" font-size="72" font-style="italic">&#956;</tspan><tspan x="1334.4 1380.2 1401.9 1439.3" y="2090.6" font-size="62.5">J/cm</tspan><tspan x="1495.8" y="2063.1" font-size="50.5">2</tspan><tspan x="1532.2" y="2081.2" font-size="53">)</tspan></text>
<text transform="translate(64.6,1331.7) rotate(-90) skewX(-12)" x="-9.3 29.9 82.5 107.6 157.9 192.1 211.2 231.7 272.7 296.3 338.4 350.6 373.4 392.8 429.3 451.2 482 491.9 528.2 562.5 575.5 592.3 630.8" y="0 0 0 0 0 0 -7 0 0 0 0 0 0 0 0 0 0 0 0 0 0 0 -7" font-size="61.5" font-style="italic">TL/mg (arbitrary units)</text>
</g>
</svg>
</body>
</html>
